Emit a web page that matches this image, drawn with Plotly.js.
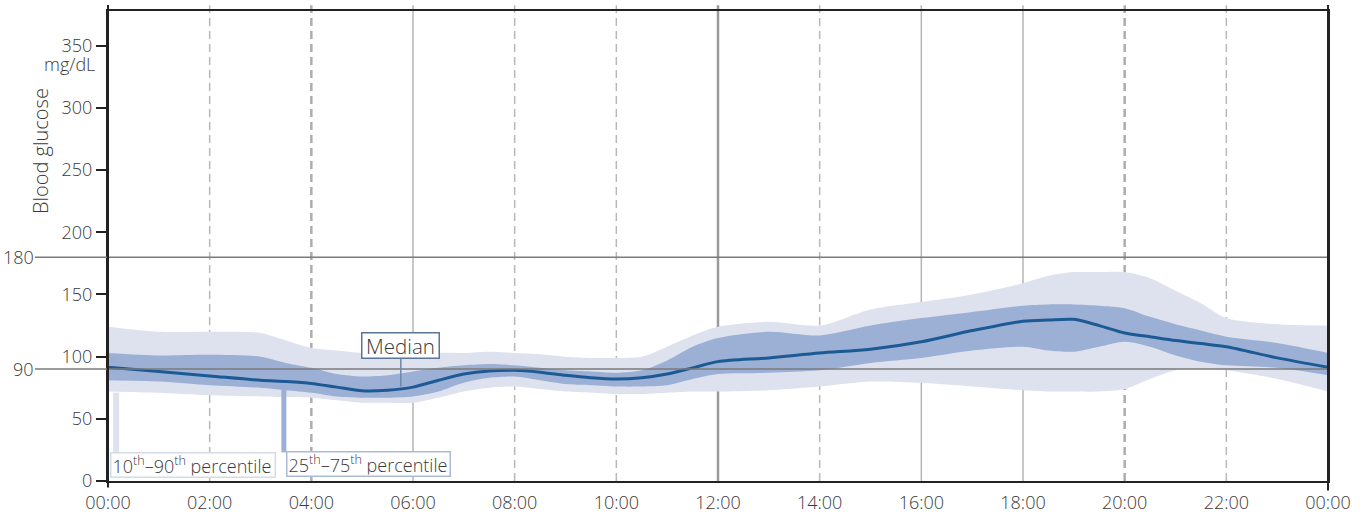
<!DOCTYPE html>
<html>
<head>
<meta charset="utf-8">
<script src="https://cdn.plot.ly/plotly-3.0.1.min.js"></script>
<style>html,body{margin:0;padding:0;background:#fff;}#chart{width:1367px;height:517px;}</style>
</head>
<body>
<div id="chart"></div>
<script>
// Time of day in hours
const hours = [0,1,2,3,3.5,4,4.5,5,5.5,6,6.5,7,7.5,8,8.5,9,9.5,10,10.5,11,11.5,12,13,14,15,16,17,18,18.5,19,19.5,20,20.5,21,21.5,22,23,24];
// Blood glucose percentiles (mg/dL)
const p10 = [72,71,69,68,67.5,67,65,63,63,63,67,72,75,76,74,72,71,70,70,71,72,72,73,76,80,79,76,73,72,72,72,74,82,89,90,89,82,72];
const p25 = [81,80,77,75,73,71,68,67,67,68,72,79,83,84,81,78,77,76,76,77,82,86,87,89,95,99,105,108,105,104,108,112,108,101,96,93,91,85];
const median = [91.5,88,84.5,81,80,78.5,75.5,72.5,73,75.5,81,86,88.5,89,87.5,85,83,82,83,86,91,96,99,103,106,112,121,128.5,129.5,130,125,119,116,113,110.5,108,99,91.5];
const p75 = [103,101,101.5,100,95,91,86,84,85,88,91,93,94,93,91,89,88,87,89,97,108,115,120,117,125,131,136,141,142,142,141,139,132,126,121,116,111,103];
const p90 = [124,120,120,119,113,107,105,103,102,100,103,103,104,103,102,100,99,99,100,108,117,124,128,125,138,144,150,159,165,168,168,168,163,153,143,131,126,125];

const xTickVals = [0,2,4,6,8,10,12,14,16,18,20,22,24];
const xTickText = ['00:00','02:00','04:00','06:00','08:00','10:00','12:00','14:00','16:00','18:00','20:00','22:00','00:00'];
const yTickVals = [0,50,100,150,200,250,300,350];
const refLines = [180, 90];

const LIGHT = '#dde2ee', MID = '#9cafd4', DARK = '#1c5a95';
const FONT = 'Open Sans, Noto Sans, sans-serif';
const TXT = '#3a3a3a';

const traces = [
  {x: hours, y: p10, type:'scatter', mode:'lines', line:{width:0, shape:'spline', smoothing:0.8}, hoverinfo:'skip', showlegend:false},
  {x: hours, y: p90, type:'scatter', mode:'lines', fill:'tonexty', fillcolor:LIGHT, line:{width:0, shape:'spline', smoothing:0.8}, hoverinfo:'skip', showlegend:false},
  {x: hours, y: p25, type:'scatter', mode:'lines', line:{width:0, shape:'spline', smoothing:0.8}, hoverinfo:'skip', showlegend:false},
  {x: hours, y: p75, type:'scatter', mode:'lines', fill:'tonexty', fillcolor:MID, line:{width:0, shape:'spline', smoothing:0.8}, hoverinfo:'skip', showlegend:false},
  {x: hours, y: median, type:'scatter', mode:'lines', line:{width:3, color:DARK, shape:'spline', smoothing:0.8}, showlegend:false}
];

// gridline styles
const gridStyle = {
  2:{dash:'dash', w:1.5, c:'#b8b8b8'}, 4:{dash:'dash', w:2.5, c:'#adadad'}, 6:{dash:'solid', w:1.5, c:'#b4b4b4'},
  8:{dash:'dash', w:1.5, c:'#b8b8b8'}, 10:{dash:'dash', w:1.5, c:'#b8b8b8'}, 12:{dash:'solid', w:2.5, c:'#9a9a9a'},
  14:{dash:'dash', w:1.5, c:'#b8b8b8'}, 16:{dash:'solid', w:1.5, c:'#b4b4b4'}, 18:{dash:'solid', w:1.5, c:'#b4b4b4'},
  20:{dash:'dash', w:2.5, c:'#adadad'}, 22:{dash:'dash', w:1.5, c:'#b8b8b8'}
};
const shapes = [];
Object.keys(gridStyle).forEach(k => {
  const s = gridStyle[k];
  shapes.push({type:'line', layer:'below', xref:'x', yref:'paper', x0:+k, x1:+k, y0:0, y1:1.012,
    line:{color:s.c, width:s.w, dash:s.dash==='dash'?'8px,5px':'solid'}});
});
const plotW = 1367-108-39;
const plotH = 517-11-36;
refLines.forEach(v => {
  shapes.push({type:'line', layer:'above', xref:'paper', yref:'y', x0:-(108-35)/plotW, x1:1, y0:v, y1:v,
    line:{color:'#7a7a7a', width:1.5}});
});
// frame extensions
shapes.push({type:'line', xref:'paper', yref:'paper', x0:0, x1:0, y0:-0.014, y1:1.013, line:{color:'#222', width:2}});
shapes.push({type:'line', xref:'paper', yref:'paper', x0:1, x1:1, y0:-0.02, y1:1.013, line:{color:'#222', width:2}});
// legend leader bars
shapes.push({type:'line', layer:'above', xref:'x', yref:'y', x0:0.16, x1:0.16, y0:71, y1:21, line:{color:LIGHT, width:6}});
shapes.push({type:'line', layer:'above', xref:'x', yref:'y', x0:3.46, x1:3.46, y0:74, y1:23, line:{color:MID, width:5}});
shapes.push({type:'line', layer:'above', xref:'x', yref:'y', x0:5.76, x1:5.76, y0:99, y1:76, line:{color:'#6f87a8', width:1.5}});

const annotations = [
  {xref:'x', yref:'y', x:5.75, y:109, text:'Median', showarrow:false, font:{family:FONT, size:20.5, color:TXT, weight:300},
   bgcolor:'#fff', bordercolor:'#5a7597', borderwidth:1.5, borderpad:1, xanchor:'center', yanchor:'middle', width:74, height:22},
  {xref:'x', yref:'y', x:0.04, y:12.5, text:'10<sup>th</sup>–90<sup>th</sup> percentile', showarrow:false, font:{family:FONT, size:18, color:TXT, weight:300},
   bgcolor:'#fff', bordercolor:'#d3dae8', borderwidth:1.5, borderpad:1, xanchor:'left', yanchor:'middle', width:161, height:21, align:'left'},
  {xref:'x', yref:'y', x:3.5, y:14, text:'25<sup>th</sup>–75<sup>th</sup> percentile', showarrow:false, font:{family:FONT, size:18, color:TXT, weight:300},
   bgcolor:'#fff', bordercolor:'#a9bbd6', borderwidth:1.5, borderpad:1, xanchor:'left', yanchor:'middle', width:160, height:21, align:'left'},
  {xref:'paper', yref:'paper', x:-(108-42)/plotW, y:(481-64)/plotH, text:'mg/dL', showarrow:false, font:{family:FONT, size:18, color:TXT, weight:300}, xanchor:'left', yanchor:'middle'},
  {xref:'paper', yref:'paper', x:-(108-40)/plotW, y:(481-151)/plotH, text:'Blood glucose', textangle:-90, showarrow:false, font:{family:FONT, size:20, color:TXT, weight:300}, xanchor:'center', yanchor:'middle'}
];
refLines.forEach(v => {
  annotations.push({xref:'paper', yref:'y', x:-(108-36)/plotW, y:v, text:String(v), showarrow:false, xanchor:'right', yanchor:'middle',
    font:{family:FONT, size:18, color:TXT, weight:300}});
});

const layout = {
  width:1367, height:517,
  margin:{l:108, r:39, t:11, b:36, pad:0},
  paper_bgcolor:'#fff', plot_bgcolor:'#fff',
  font:{family:FONT, size:18, color:TXT, weight:300},
  xaxis:{range:[0,24], tickvals:xTickVals, ticktext:xTickText, showgrid:false, zeroline:false, ticklabelstandoff:4,
    showline:true, linecolor:'#222', linewidth:2, mirror:true, ticks:'', tickfont:{family:FONT, size:18, color:TXT, weight:300}, fixedrange:true},
  yaxis:{range:[0,378], tickvals:yTickVals, showgrid:false, zeroline:false, showline:true, linecolor:'#222', linewidth:2, mirror:true,
    ticks:'outside', ticklen:10, tickwidth:2, tickcolor:'#222', tickfont:{family:FONT, size:18, color:TXT, weight:300}, fixedrange:true},
  shapes:shapes, annotations:annotations, showlegend:false
};
Plotly.newPlot('chart', traces, layout, {displayModeBar:false, staticPlot:true});
</script>
</body>
</html>
